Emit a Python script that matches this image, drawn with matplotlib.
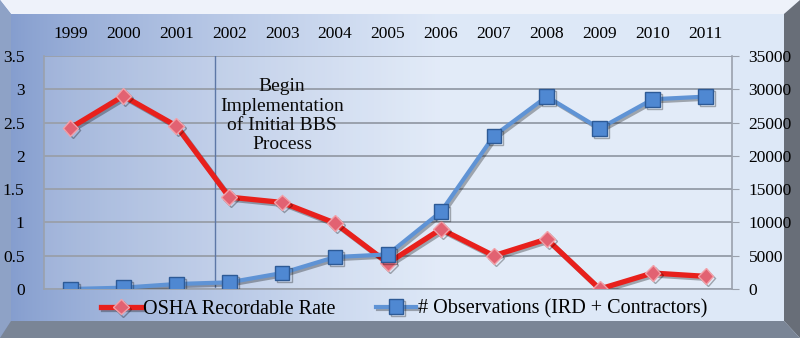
import numpy as np
import matplotlib
matplotlib.use('Agg')
import matplotlib.pyplot as plt
from matplotlib.patches import Polygon
import matplotlib.patheffects as pe

years = ['1999', '2000', '2001', '2002', '2003', '2004', '2005',
         '2006', '2007', '2008', '2009', '2010', '2011']
osha_rate = [2.42, 2.9, 2.45, 1.38, 1.3, 0.99, 0.39,
             0.9, 0.5, 0.75, 0.0, 0.24, 0.19]
observations = [0, 200, 750, 1000, 2400, 4800, 5200,
                11600, 23000, 28900, 24100, 28500, 28900]
left_ticks = [0, 0.5, 1, 1.5, 2, 2.5, 3, 3.5]
right_ticks = [0, 5000, 10000, 15000, 20000, 25000, 30000, 35000]

serif = 'Liberation Serif'
W, H = 800, 338

fig = plt.figure(figsize=(8, 3.38), dpi=100)

# background: bevelled frame with blue gradient
bg = fig.add_axes([0, 0, 1, 1])
bg.set_xlim(0, W)
bg.set_ylim(H, 0)
bg.axis('off')
xs = np.linspace(0, 1, W)
left_c = np.array([0.50, 0.60, 0.80])
right_c = np.array([0.87, 0.91, 0.97])
t = np.clip(xs / 0.55, 0, 1) ** 0.75
row = left_c[None, :] * (1 - t[:, None]) + right_c[None, :] * t[:, None]
img = np.repeat(row[None, :, :], H, axis=0)
bg.imshow(img, extent=[0, W, H, 0], aspect='auto', zorder=0)

outer = [(0, 0), (W, 0), (W, H), (0, H)]
inner = [(11, 14), (784, 14), (784, 321), (11, 321)]
bg.add_patch(Polygon([outer[0], outer[1], inner[1], inner[0]],
                     color='#eef2fa', zorder=1, lw=0))
bg.add_patch(Polygon([outer[0], inner[0], inner[3], outer[3]],
                     color='#8ea2c6', zorder=1, lw=0))
bg.add_patch(Polygon([outer[1], outer[2], inner[2], inner[1]],
                     color='#686e78', zorder=1, lw=0))
bg.add_patch(Polygon([outer[3], inner[3], inner[2], outer[2]],
                     color='#7a8596', zorder=1, lw=0))

ax = fig.add_axes([44 / W, 1 - 289 / H, 688 / W, 233 / H])
ax.patch.set_facecolor('white')
ax.patch.set_alpha(0.15)
x = np.arange(len(years))

ax.set_xlim(-0.5, len(years) - 0.5)
ax.set_ylim(0, 3.5)
ax.set_yticks(left_ticks)
ax.set_yticklabels(['0', '0.5', '1', '1.5', '2', '2.5', '3', '3.5'])
ax.set_xticks(x)
ax.set_xticklabels(years)
ax.xaxis.tick_top()
ax.tick_params(axis='x', length=0, pad=10, labelsize=12.5)
ax.tick_params(axis='y', length=0, pad=14, labelsize=12.5)
for lab in ax.get_xticklabels() + ax.get_yticklabels():
    lab.set_family(serif)
ax.grid(axis='y', color='#9aa1ad', lw=1.4)
ax.set_axisbelow(True)
for side in ['top', 'right']:
    ax.spines[side].set_visible(False)
for side in ['left', 'bottom']:
    ax.spines[side].set_color('#9aa1ad')
    ax.spines[side].set_linewidth(1.2)

shadow = [pe.SimpleLineShadow(offset=(1.5, -1.5), alpha=0.3), pe.Normal()]

l1, = ax.plot(x, osha_rate, color='#e8201c', lw=3.8, marker='D', ms=8,
              mfc='#e26272', mec='#f2a0a8', mew=1, zorder=3,
              path_effects=shadow, label='OSHA Recordable Rate')

ax.axvline(2.73, color='#5d77a6', lw=1, zorder=2)
ax.text(4.0, 2.6, 'Begin\nImplementation\nof Initial BBS\nProcess',
        ha='center', va='center', family=serif, fontsize=14,
        linespacing=1.18, color='#0a0a0a', zorder=4)

ax2 = ax.twinx()
ax2.set_ylim(0, 35000)
ax2.set_yticks(right_ticks)
ax2.set_yticklabels([str(v) for v in right_ticks])
ax2.tick_params(axis='y', length=5, color='#9aa1ad', pad=7, labelsize=12.5)
for lab in ax2.get_yticklabels():
    lab.set_family(serif)
for side in ['top', 'left', 'bottom']:
    ax2.spines[side].set_visible(False)
ax2.spines['right'].set_color('#9aa1ad')
ax2.spines['right'].set_linewidth(1.2)

l2, = ax2.plot(x, observations, color='#5f93d5', lw=3, marker='s', ms=10.5,
               mfc='#4f88d2', mec='#2d5a96', mew=1, zorder=3,
               path_effects=shadow, label='# Observations (IRD + Contractors)')

fig.legend([l1, l2], [l1.get_label(), l2.get_label()], loc='center',
           bbox_to_anchor=(0.505, 1 - 309 / H), ncol=2, frameon=False,
           prop={'family': serif, 'size': 14.5}, handlelength=2.0,
           handletextpad=0.1, columnspacing=2.0)

fig.savefig('out.png', dpi=100)
